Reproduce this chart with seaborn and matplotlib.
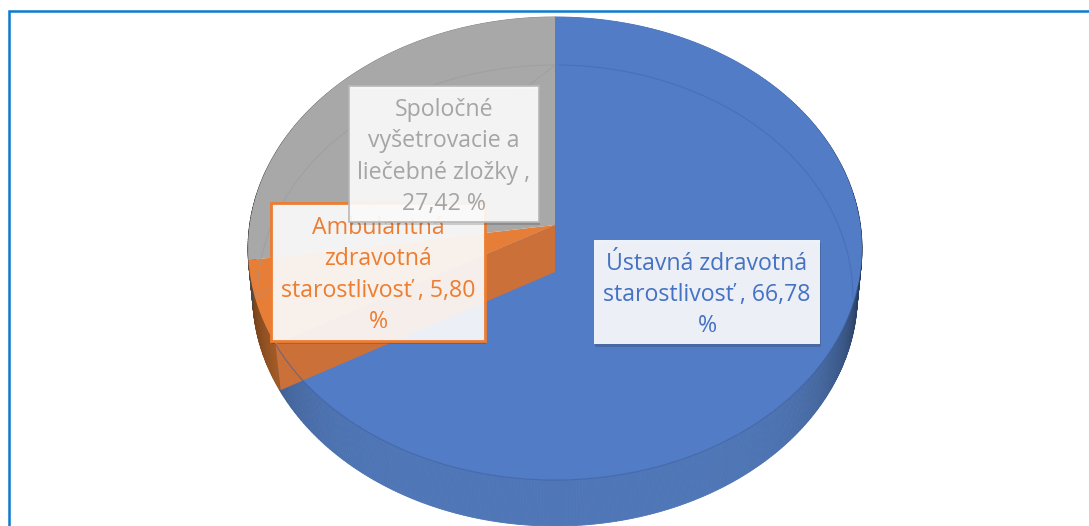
import numpy as np
import matplotlib
matplotlib.use('Agg')
import matplotlib.pyplot as plt
import matplotlib.patches as mpatches
import matplotlib.patheffects as pe
import matplotlib.transforms as mtrans
import seaborn as sns

labels = ['Ústavná zdravotná\nstarostlivosť , 66,78\n%',
          'Ambulantná\nzdravotná\nstarostlivosť , 5,80\n%',
          'Spoločné\nvyšetrovacie a\nliečebné zložky ,\n27,42 %']
values = [66.78, 5.80, 27.42]
colors = ['#4472C4', '#ED7D31', '#A5A5A5']
faces = ['#527CC6', '#E67E38', '#A8A8A8']
walls = ['#4F76B6', '#C8702F', '#8A8A8A']

sns.set_theme(style='white')
plt.rcParams['font.family'] = ['Open Sans', 'DejaVu Sans']


# squashes the unit circle of the pie to the tilted disc, in pixels
class Tilt(mtrans.Transform):
    input_dims = 2
    output_dims = 2
    cx, cy, rx = 555, 225, 305.4
    a, c = -206.3, 0.1015

    def transform_non_affine(self, xy):
        xy = np.asarray(xy, dtype=float)
        w = 1 + self.c * xy[:, 1]
        return np.column_stack([self.cx + self.rx * xy[:, 0] / w,
                                (self.a * xy[:, 1] + self.cy) / w])


tilt = Tilt()
depth = 46

fig = plt.figure(figsize=(10.89, 5.26), dpi=100)
ax = fig.add_axes([0, 0, 1, 1])
wedges, _ = ax.pie(values, colors=faces, startangle=90, counterclock=False)
ax.set_aspect('auto')
ax.set_xlim(0, 1089)
ax.set_ylim(526, 0)
for w in wedges:
    w.set_transform(tilt + ax.transData)
    w.set_zorder(3)
    w.set_linewidth(0)


def rim(deg):
    t = np.radians(deg)
    return tilt.transform(np.column_stack([np.cos(t), np.sin(t)]))


def lower(p, scale=0.985):
    # same points on the underside of the disc
    q = np.array(p, dtype=float) + [0, depth]
    q[..., 0] = 555 + (q[..., 0] - 555) * scale
    return q


# outer wall, one thin strip per step so it can be shaded
for w, col in zip(wedges, walls):
    base = np.array(matplotlib.colors.to_rgb(col))
    for t0 in np.arange(w.theta1, w.theta2, 0.5):
        p = rim(np.array([t0, t0 + 0.5]))
        b = lower(p)
        u = abs(np.cos(np.radians(t0)))
        shade = 1 - 0.5 * u ** 7
        c = base * shade
        ax.add_patch(mpatches.Polygon([p[0], p[1], b[1], b[0]], fc=c, ec=c, lw=0.6, zorder=2))

# cut face of the orange slice that shows over the blue one
cut = rim(np.array([wedges[0].theta1]))[0]
apex = tilt.transform(np.array([[0.0, 0.0]]))[0]
ax.add_patch(mpatches.Polygon([apex, cut, lower(cut) + [1, 0], apex + [0, depth + 1]],
                              fc='#CB7038', ec='none', zorder=4))

# back edge of the base, seen through the disc
back = lower(rim(np.arange(-180, 181, 1.0)) + [0, 2], 0.97)
keep = back[:, 1] < 300
right = back[:, 0] > 555
ax.plot(back[keep & right, 0], back[keep & right, 1], color='#3F66AD', lw=0.8, alpha=0.5, zorder=5)
ax.plot(back[keep & ~right, 0], back[keep & ~right, 1], color='#999999', lw=0.8, alpha=0.5, zorder=5)
# front rim, thin dark line
front = rim(np.arange(wedges[0].theta1, -15, 1.0))
ax.plot(front[:, 0], front[:, 1], color='#3A5E9F', lw=0.8, alpha=0.6, zorder=5)

# data label boxes, the later ones lie over the earlier ones
boxes = [(594, 240, 226, 104, 'none', 0),
         (271, 203, 214, 138, colors[1], 2),
         (349, 86, 190, 136, '#B8B8B8', 1.2)]
for i, (txt, col, b) in enumerate(zip(labels, colors, boxes)):
    x, y, bw, bh, edge, lw = b
    z = 6 + i
    ax.add_patch(mpatches.Rectangle((x, y), bw, bh, fc='white', alpha=0.9, ec='none', zorder=z,
                                    path_effects=[pe.SimplePatchShadow(offset=(1, -2), alpha=0.18, shadow_rgbFace='k'),
                                                  pe.Normal()]))
    if lw:
        ax.add_patch(mpatches.Rectangle((x, y), bw, bh, fc='none', ec=edge, lw=lw, zorder=z))
    ax.text(x + bw / 2, y + bh / 2 + 3, txt, color=col, fontsize=16.7, ha='center', va='center',
            linespacing=1.41, zorder=z + 0.5)

# frame of the chart area, only top and left fall inside the crop
ax.plot([8.5, 8.5, 1089], [526, 10.5, 10.5], color='#0A7BD0', lw=1.8, zorder=1,
        solid_joinstyle='miter')

fig.savefig('out.png', dpi=100)
